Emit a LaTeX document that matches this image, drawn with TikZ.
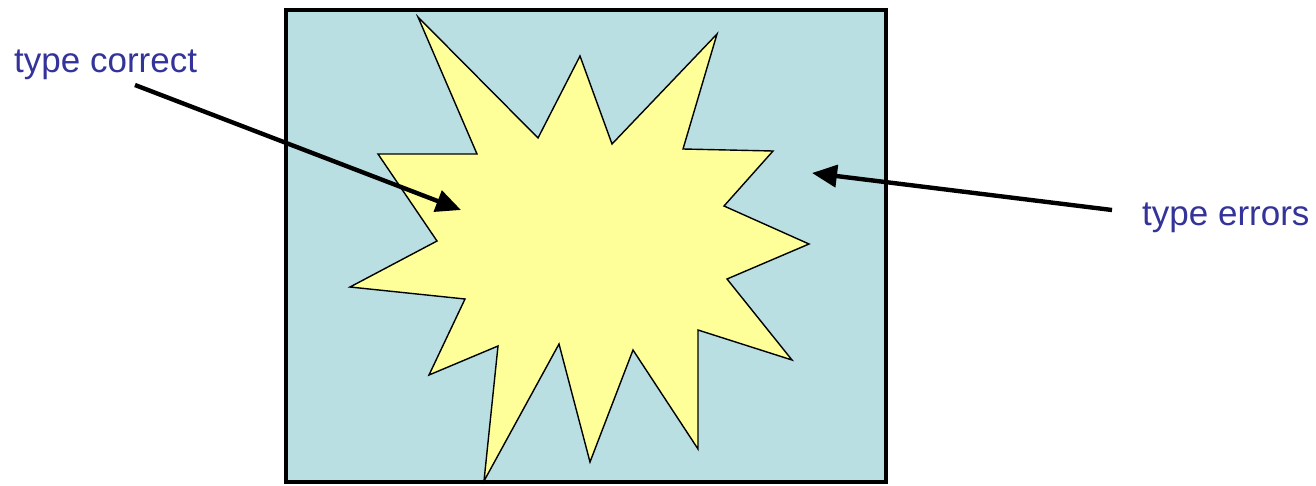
\documentclass[tikz,border=0pt]{standalone}
\usepackage{fontspec}
\setmainfont{Liberation Sans}
\usetikzlibrary{arrows.meta, positioning}
\definecolor{boxblue}{HTML}{BADFE2}
\definecolor{burstyellow}{HTML}{FFFF99}
\definecolor{textblue}{HTML}{333399}
\tikzstyle{typetext} = [
    anchor=base west, inner sep=0pt, text=textblue,
    font=\fontsize{35}{42}\selectfont
]
\tikzstyle{universe} = [draw=black, fill=boxblue, line width=4pt]
\tikzstyle{burst} = [draw=black, fill=burstyellow, line width=1.4pt, line join=miter]
\tikzstyle{pointer} = [-{Triangle[length=25pt,width=22pt]}, line width=4.4pt]

\begin{document}
\begin{tikzpicture}[x=1pt, y=-1pt]
    \useasboundingbox (0,0) rectangle (1316,485);

    % All programs
    \draw[universe] (286,10) rectangle (886,482);

    % Well-typed programs
    \draw[burst] (418,17) -- (538,138) -- (580,56) -- (612,144) -- (717,34)
        -- (683,149) -- (773,151) -- (724,206) -- (809,244) -- (727,279)
        -- (792,360) -- (698,330) -- (698,449) -- (633,350) -- (590,462)
        -- (559,344) -- (484,481) -- (498,346) -- (429,375) -- (465,299)
        -- (350,287) -- (437,241) -- (378,154) -- (477,154) -- cycle;

    % Labels
    \node[typetext] (correct) at (14,72) {type correct};
    \node[typetext] (errors) at (1142,225) {type errors};

    % Arrow ends
    \coordinate (correcttail) at (135,85);
    \coordinate (inside) at (461,210);
    \coordinate (errorstail) at (1112,210);
    \coordinate (outside) at (812,173);

    % Arrows
    \draw[pointer] (correcttail) -- (inside);
    \draw[pointer] (errorstail) -- (outside);

\end{tikzpicture}
\end{document}
